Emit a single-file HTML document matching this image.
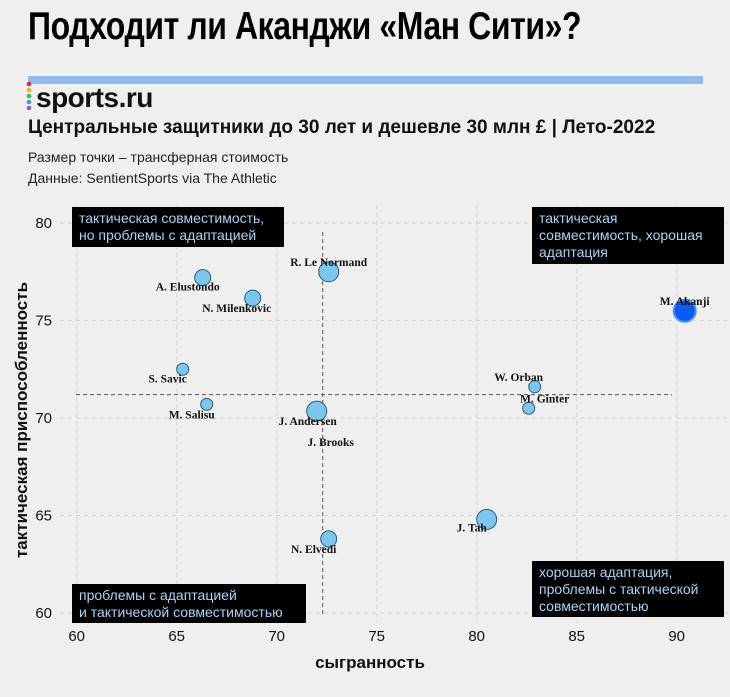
<!DOCTYPE html>
<html><head><meta charset="utf-8">
<style>
body{margin:0;background:#efefef;width:730px;height:697px;overflow:hidden;font-family:"Liberation Sans","DejaVu Sans",sans-serif;position:relative}
.abs{position:absolute}
#title{left:28px;top:5px;font-weight:bold;font-size:39px;color:#000;letter-spacing:-0.5px;white-space:nowrap;transform:scaleX(0.82);transform-origin:left top}
#bar{left:28px;top:76px;width:675px;height:8px;background:#8fbcec}
.box{position:absolute;background:#000;color:#a9d3f5;font-size:14px;line-height:17px;padding:3px 7px;box-sizing:border-box;white-space:nowrap}
</style></head><body>
<div id="title" class="abs">Подходит ли Аканджи «Ман Сити»?</div>
<div id="bar" class="abs"></div>
<div class="abs" style="left:25px;top:78px;font-weight:bold;font-size:28px;color:#111;letter-spacing:-0.5px">
<svg width="10" height="34" style="vertical-align:-5px;margin-right:1px"><circle cx="4" cy="6" r="2.3" fill="#e0245e"/><circle cx="4" cy="12" r="2.3" fill="#f6b500"/><circle cx="4" cy="18" r="2.3" fill="#3cba54"/><circle cx="4" cy="24" r="2.3" fill="#2aa4e8"/><circle cx="4" cy="30" r="2.3" fill="#9b59b6"/></svg>sports.ru</div>
<div class="abs" style="left:28px;top:117px;font-weight:bold;font-size:19px;color:#111">Центральные защитники до 30 лет и дешевле 30 млн £ | Лето-2022</div>
<div class="abs" style="left:28px;top:149px;font-size:14px;color:#222">Размер точки – трансферная стоимость</div>
<div class="abs" style="left:28px;top:170px;font-size:14px;color:#222">Данные: SentientSports via The Athletic</div>

<svg id="chart" class="abs" style="left:0;top:0" width="730" height="697"></svg>

<div class="box" style="left:72px;top:207px;width:212px;height:40px">тактическая совместимость,<br>но проблемы с адаптацией</div>
<div class="box" style="left:532px;top:207px;width:192px;height:57px">тактическая<br>совместимость, хорошая<br>адаптация</div>
<div class="box" style="left:72px;top:584px;width:234px;height:39px">проблемы с адаптацией<br>и тактической совместимостью</div>
<div class="box" style="left:532px;top:561px;width:192px;height:56px">хорошая адаптация,<br>проблемы с тактической<br>совместимостью</div>

<script>
const players=["R. Le Normand","A. Elustondo","N. Milenkovic","S. Savic","M. Salisu","J. Andersen","J. Brooks","N. Elvedi","J. Tah","W. Orban","M. Ginter","M. Akanji"];
const xVals=[72.6,66.3,68.8,65.3,66.5,72.0,72.3,72.6,80.5,82.9,82.6,90.4];
const yVals=[77.5,77.2,76.15,72.5,70.7,70.35,70.3,63.8,64.8,71.6,70.5,75.5];
const sizes=[10,8,8,6,6,10,0,8,10,6,6,11];
const xTicks=[60,65,70,75,80,85,90];
const yTicks=[60,65,70,75,80];
const meanX=72.3, meanY=71.2;
const labelOff=[[0,-6],[-15,13],[-16,14],[-15,13],[-15,14],[-9,14],[8,34],[-15,14],[-15,12],[-16,-6],[16,-6],[0,-6]];

const NS="http://www.w3.org/2000/svg";
const svg=document.getElementById('chart');
const xs=v=>76.7+(v-60)*20.0;
const ys=v=>613-(v-60)*19.5;
function mk(tag,attrs){const e=document.createElementNS(NS,tag);for(const k in attrs)e.setAttribute(k,attrs[k]);svg.appendChild(e);return e;}

xTicks.forEach(t=>{
  const l=mk('line',{x1:xs(t),x2:xs(t),y1:205,y2:622,stroke:'#d6d6d6','stroke-dasharray':'4 4'});
  
  
  const tx=mk('text',{x:xs(t),y:641,'text-anchor':'middle','font-size':15,fill:'#111','font-family':'Liberation Sans, sans-serif'});
  tx.textContent=t;
  
  
});
yTicks.forEach(t=>{
  const l=mk('line',{x1:60,x2:727,y1:ys(t),y2:ys(t),stroke:'#d6d6d6','stroke-dasharray':'4 4'});
  
  
  const tx=mk('text',{x:52,y:ys(t)+5,'text-anchor':'end','font-size':15,fill:'#111','font-family':'Liberation Sans, sans-serif'});
  tx.textContent=t;
  
  
});
const mv=mk('line',{x1:xs(meanX),x2:xs(meanX),y1:232,y2:614,stroke:'#555','stroke-dasharray':'4 3'});


const mh=mk('line',{x1:76,x2:672,y1:ys(meanY),y2:ys(meanY),stroke:'#555','stroke-dasharray':'4 3'});



players.forEach((p,i)=>{
  const cx=xs(xVals[i]),cy=ys(yVals[i]);
  if(sizes[i]>0){
    const isA=p==="M. Akanji";
    const c=mk('circle',{cx:cx,cy:cy,r:sizes[i],fill:isA?'#0a5cf5':'#7cc7f0',stroke:isA?'#4d8cff':'#2b5a70','stroke-width':isA?2:1});
    
    
  }
  const t=mk('text',{x:cx+labelOff[i][0],y:cy+labelOff[i][1],'text-anchor':'middle','font-size':11.5,'font-weight':'bold',fill:'#111','font-family':'Liberation Serif, serif'});
  t.textContent=p;
  
  
});

const yt=mk('text',{x:0,y:0,'text-anchor':'middle','font-size':17,'font-weight':'bold',fill:'#111','font-family':'Liberation Sans, sans-serif',transform:'translate(27,420) rotate(-90)'});
yt.textContent='тактическая приспособленность';


const xt=mk('text',{x:370,y:668,'text-anchor':'middle','font-size':17,'font-weight':'bold',fill:'#111','font-family':'Liberation Sans, sans-serif'});
xt.textContent='сыгранность';


</script>
</body></html>
